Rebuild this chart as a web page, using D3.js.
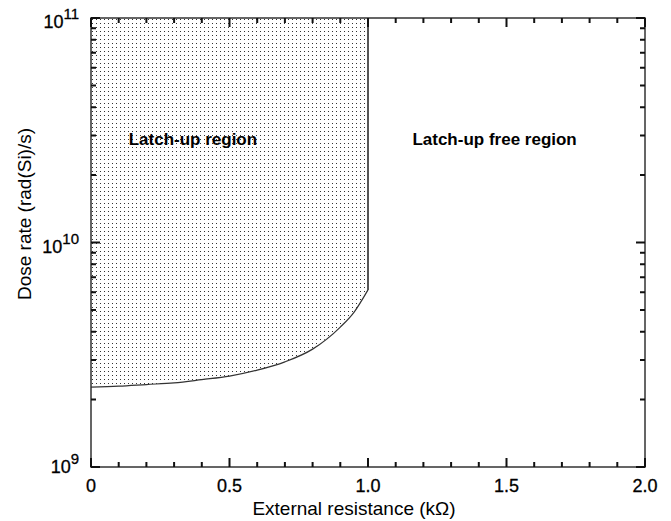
<!DOCTYPE html>
<html>
<head>
<meta charset="utf-8">
<script src="https://cdn.jsdelivr.net/npm/d3@7"></script>
<style>
body { margin: 0; background: #fff; }
text { font-family: "Liberation Sans", Arial, sans-serif; fill: #000; }
</style>
</head>
<body>
<svg id="chart" width="671" height="521"></svg>
<script>
// boundary curve of the latch-up region
var resistance = [0, 0.1, 0.2, 0.3, 0.4, 0.5, 0.6, 0.7, 0.8, 0.9, 0.95, 1.0];
var doseRate   = [2.27e9, 2.29e9, 2.33e9, 2.37e9, 2.45e9, 2.54e9, 2.70e9, 2.94e9, 3.35e9, 4.2e9, 4.9e9, 6.15e9];
var xTicks = [0, 0.5, 1.0, 1.5, 2.0];
var xTickLabels = ["0", "0.5", "1.0", "1.5", "2.0"];
var yDecades = [9, 10, 11];

var svg = d3.select("#chart");
var margin = {left: 91, top: 18, right: 26, bottom: 54};
var width = 671 - margin.left - margin.right,
    height = 521 - margin.top - margin.bottom;

var x = d3.scaleLinear().domain([0, 2]).range([0, width]);
var y = d3.scaleLog().domain([1e9, 1e11]).range([height, 0]);

var defs = svg.append("defs");
var pat = defs.append("pattern")
    .attr("id", "dots")
    .attr("patternUnits", "userSpaceOnUse")
    .attr("width", 4).attr("height", 4);
pat.append("rect").attr("x", 1).attr("y", 1).attr("width", 1).attr("height", 1).attr("fill", "#333");

var g = svg.append("g").attr("transform", "translate(" + margin.left + "," + margin.top + ")");

// frame
g.append("rect").attr("width", width).attr("height", height)
    .attr("fill", "none").attr("stroke", "#333").attr("stroke-width", 1.5);

// shaded region
var pts = resistance.map(function(d, i) { return [d, doseRate[i]]; });
var area = pts.concat([[1.0, 1e11], [0, 1e11]]);
g.append("path")
    .attr("d", d3.line().x(function(d) { return x(d[0]); }).y(function(d) { return y(d[1]); })(area) + "Z")
    .attr("fill", "url(#dots)");

// boundary
g.append("path")
    .attr("d", d3.line().x(function(d) { return x(d[0]); }).y(function(d) { return y(d[1]); })
        .curve(d3.curveMonotoneX)(pts))
    .attr("fill", "none").attr("stroke", "#333").attr("stroke-width", 1.2);
g.append("line")
    .attr("x1", x(1.0)).attr("x2", x(1.0))
    .attr("y1", y(6.15e9)).attr("y2", y(1e11))
    .attr("stroke", "#555").attr("stroke-width", 2);

// ticks, all pointing inward (one path)
var xAll = d3.range(0, 21).map(function(i) { return i / 10; });
var yAll = [];
[9, 10].forEach(function(e) { for (var k = 1; k <= 9; k++) yAll.push(k * Math.pow(10, e)); });
yAll.push(1e11);
var td = "";
xAll.forEach(function(v, i) {
  var len = (i % 5 === 0) ? 9 : 5;
  td += "M" + x(v) + "," + height + "V" + (height - len);
  td += "M" + x(v) + ",0V" + len;
});
yAll.forEach(function(v) {
  var len = yDecades.indexOf(Math.round(Math.log10(v) * 1000) / 1000) >= 0 ? 9 : 5;
  td += "M0," + y(v) + "H" + len;
  td += "M" + width + "," + y(v) + "H" + (width - len);
});
g.append("path").attr("d", td).attr("fill", "none")
    .attr("stroke", "#111").attr("stroke-width", 2);

// x tick labels
g.selectAll(".xl").data(xTicks).enter().append("text")
    .attr("x", function(d) { return x(d); })
    .attr("y", height + 25)
    .attr("text-anchor", "middle")
    .style("font-size", "18px")
    .style("stroke", "#000").style("stroke-width", 0.3)
    .text(function(d, i) { return xTickLabels[i]; });

// y tick labels
yDecades.forEach(function(e) {
  var t = g.append("text")
      .attr("x", -12)
      .attr("y", y(Math.pow(10, e)) + (e === 9 ? 6 : 10))
      .attr("text-anchor", "end")
      .style("font-size", "18px")
      .style("stroke", "#000").style("stroke-width", 0.3);
  t.append("tspan").text("10");
  t.append("tspan").attr("dy", -9).style("font-size", "15px").text(e);
});

// region labels
g.append("text").attr("x", x(0.368)).attr("y", 127)
    .attr("text-anchor", "middle").style("font-size", "17px").style("font-weight", "bold")
    .text("Latch-up region");
g.append("text").attr("x", x(1.457)).attr("y", 127)
    .attr("text-anchor", "middle").style("font-size", "17px").style("font-weight", "bold")
    .text("Latch-up free region");

// axis titles
svg.append("text")
    .attr("x", 354).attr("y", 515)
    .attr("text-anchor", "middle").style("font-size", "19px")
    .text("External resistance (k\u03A9)");
svg.append("text")
    .attr("transform", "translate(31,214) rotate(-90)")
    .attr("text-anchor", "middle").style("font-size", "19px")
    .text("Dose rate  (rad(Si)/s)");
</script>
</body>
</html>
